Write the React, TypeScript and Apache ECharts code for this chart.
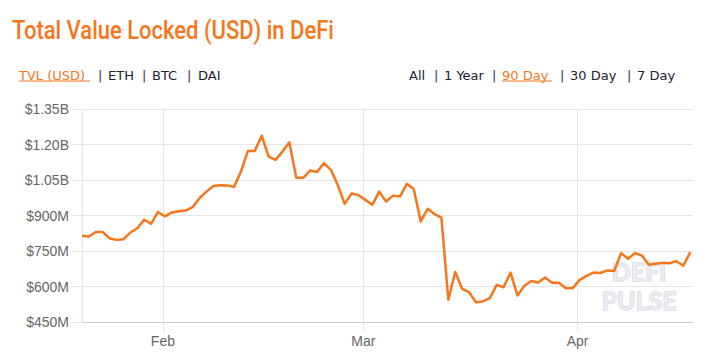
import React, { useEffect, useRef } from 'react';
import * as echarts from 'echarts';

// ---- data ----
const START = Date.UTC(2020, 0, 20, 7); // first daily sample
const DAY = 86400000;
const tvlValues = [
  814, 811, 830, 830, 803, 797, 800, 828, 846, 882,
  865, 915, 896, 913, 918, 921, 935, 973, 1001, 1025,
  1028, 1027, 1021, 1086, 1173, 1173, 1237, 1149, 1135, 1170,
  1209, 1059, 1059, 1090, 1084, 1121, 1093, 1029, 949, 993,
  986, 966, 945, 1001, 959, 984, 980, 1034, 1012, 875,
  928, 906, 891, 544, 661, 590, 576, 533, 537, 551,
  607, 597, 659, 562, 603, 623, 617, 638, 616, 616,
  593, 593, 628, 645, 659, 657, 668, 666, 741, 717,
  741, 731, 692, 696, 700, 698, 707, 688, 745,
];
const monthTicks = [Date.UTC(2020, 1, 1), Date.UTC(2020, 2, 1), Date.UTC(2020, 3, 1)];
const monthNames = ['Jan', 'Feb', 'Mar', 'Apr', 'May', 'Jun', 'Jul', 'Aug', 'Sep', 'Oct', 'Nov', 'Dec'];
const titleText = 'Total Value Locked (USD) in DeFi';
const leftTabs = ['TVL (USD)', '|', 'ETH', '|', 'BTC', '|', 'DAI'];
const rightTabs = ['All', '|', '1 Year', '|', '90 Day', '|', '30 Day', '|', '7 Day'];
const watermarkLines = ['DEFI', 'PULSE'];

// ---- layout ----
const leftTabX = [19, 98, 108, 142, 152, 187, 198];
const rightTabX = [409, 434, 444, 492, 502, 560, 570, 627, 637];
const watermarkY = [270.5, 299.5];
const ORANGE = '#f7761c';
const TEXT = '#22222e';
const TAB_FONT = '400 13px "DejaVu Sans"';

function fmtY(v: number) {
  if (v >= 1000) return '$' + (v / 1000).toFixed(2) + 'B';
  return '$' + v + 'M';
}

export default function App() {
  const ref = useRef<HTMLDivElement>(null);
  useEffect(() => {
    const chart = echarts.init(ref.current!, null, { renderer: 'svg' });
    const tabEls: any[] = [];
    leftTabs.forEach((t, i) => {
      const active = i === 0;
      tabEls.push({
        type: 'text', x: leftTabX[i], y: 75,
        style: { text: t, font: TAB_FONT, fill: active ? ORANGE : (t === '|' ? '#4a2a50' : TEXT), textVerticalAlign: 'middle' },
      });
    });
    rightTabs.forEach((t, i) => {
      const active = t === '90 Day';
      tabEls.push({
        type: 'text', x: rightTabX[i], y: 75,
        style: { text: t, font: TAB_FONT, fill: active ? ORANGE : (t === '|' ? '#3a3050' : TEXT), textVerticalAlign: 'middle' },
      });
    });
    const wmEls = watermarkLines.map((t, i) => ({
      type: 'text', x: 639, y: watermarkY[i], z: 1,
      style: {
        text: t, font: '700 25px Lato',
        fill: '#ecebf1', stroke: '#cfcdd9', lineWidth: 1,
        textAlign: 'center', textVerticalAlign: 'middle',
      },
    }));
    const option: any = {
      animation: false,
      backgroundColor: '#ffffff',
      grid: { left: 82, right: 20, top: 109, bottom: 40, containLabel: false },
      xAxis: {
        type: 'value',
        min: START,
        max: START + 88.4 * DAY,
        axisLine: { show: true, lineStyle: { color: '#cccccc', width: 1 } },
        axisTick: { show: true, customValues: monthTicks, length: 10, lineStyle: { color: '#e6e6e6' } },
        axisLabel: {
          customValues: monthTicks,
          formatter: (v: number) => monthNames[new Date(v).getUTCMonth()],
          color: '#666666', fontSize: 14, fontFamily: 'Liberation Sans, Arial, sans-serif', margin: 12,
        },
        splitLine: { show: true, lineStyle: { color: '#e6e6e6', width: 1 } },
      },
      yAxis: {
        type: 'value',
        min: 450, max: 1350, interval: 150,
        axisLine: { show: true, lineStyle: { color: '#e6e6e6' } },
        axisTick: { show: true, length: 10, lineStyle: { color: '#e6e6e6' } },
        axisLabel: { formatter: fmtY, color: '#666666', fontSize: 14, fontFamily: 'Liberation Sans, Arial, sans-serif', margin: 13 },
        splitLine: { show: true, lineStyle: { color: '#e6e6e6', width: 1 } },
      },
      series: [{
        type: 'line',
        data: tvlValues.map((v, i) => [START + i * DAY, v]),
        showSymbol: false,
        symbol: 'none',
        lineStyle: { color: ORANGE, width: 2.5, join: 'round' },
        z: 3,
      }],
      graphic: [
        {
          type: 'text', x: 12, y: 31, scaleX: 0.88,
          style: { text: titleText, font: '500 25px Roboto', fill: ORANGE, textVerticalAlign: 'middle' },
        },
        ...tabEls,
        { type: 'line', shape: { x1: 19, y1: 81, x2: 90, y2: 81 }, style: { stroke: ORANGE, lineWidth: 1 } },
        { type: 'line', shape: { x1: 502, y1: 81, x2: 552, y2: 81 }, style: { stroke: ORANGE, lineWidth: 1 } },
        ...wmEls,
      ],
    };
    chart.setOption(option);
    return () => chart.dispose();
  }, []);
  return <div ref={ref} style={{ position: 'fixed', left: 0, top: 0, width: 713, height: 362 }} />;
}
